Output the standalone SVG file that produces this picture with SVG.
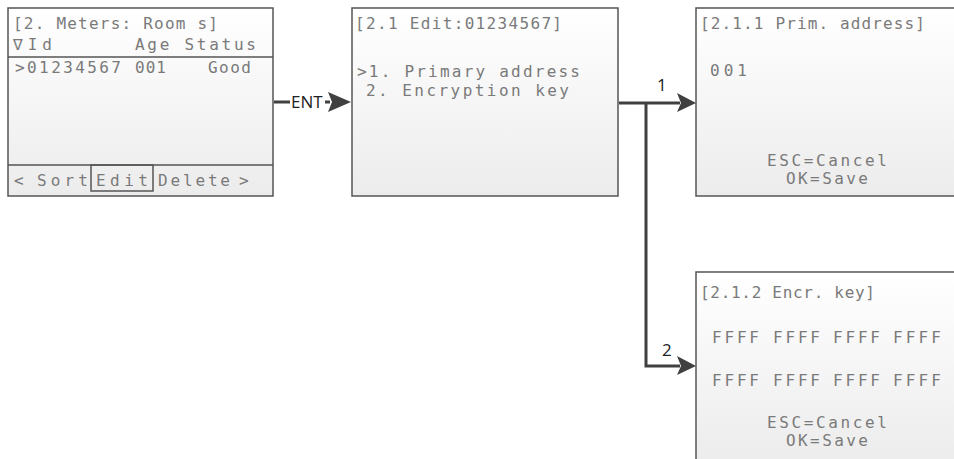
<svg xmlns="http://www.w3.org/2000/svg" width="954" height="459" viewBox="0 0 954 459">
<defs>
<linearGradient id="lcd" x1="0" y1="0" x2="0" y2="1">
<stop offset="0" stop-color="#ffffff"/>
<stop offset="1" stop-color="#ececec"/>
</linearGradient>
<style>
.scr{fill:url(#lcd);stroke:#555;stroke-width:1.5}
.ln{stroke:#555;stroke-width:1.5;fill:none}
.t{font-family:"DejaVu Sans Mono","Liberation Mono",monospace;font-size:16px;fill:#7a7a7a}
.c{stroke:#404040;stroke-width:3;fill:none}
.ah{fill:#404040}
.lb{font-family:"Open Sans","Liberation Sans",sans-serif;font-size:17px;fill:#222}
</style>
</defs>
<rect width="954" height="459" fill="#fff"/>
<g id="screen-meters">
<rect class="scr" x="8" y="8" width="265" height="188"/>
<line class="ln" x1="8" y1="57" x2="273" y2="57"/>
<line class="ln" x1="8" y1="165" x2="273" y2="165"/>
<rect class="ln" x="91" y="165" width="62" height="26"/>
<text class="t" x="13" y="29" textLength="205" lengthAdjust="spacing">[2. Meters: Room s]</text>
<text class="t" x="13" y="50" textLength="39" lengthAdjust="spacing">∇Id</text>
<text class="t" x="135" y="50" textLength="121" lengthAdjust="spacing">Age Status</text>
<text class="t" x="15" y="73" textLength="106" lengthAdjust="spacing">&gt;01234567</text>
<text class="t" x="135" y="73" textLength="31" lengthAdjust="spacing">001</text>
<text class="t" x="208" y="73" textLength="43" lengthAdjust="spacing">Good</text>
<text class="t" x="14" y="186">&lt;</text>
<text class="t" x="37" y="186" textLength="51" lengthAdjust="spacing">Sort</text>
<text class="t" x="96" y="186" textLength="52" lengthAdjust="spacing">Edit</text>
<text class="t" x="158" y="186" textLength="72" lengthAdjust="spacing">Delete</text>
<text class="t" x="239" y="186">&gt;</text>
</g>
<g id="screen-edit">
<rect class="scr" x="352" y="8" width="266" height="188"/>
<text class="t" x="355" y="29" textLength="207" lengthAdjust="spacing">[2.1 Edit:01234567]</text>
<text class="t" x="357" y="77" textLength="223" lengthAdjust="spacing">&gt;1. Primary address</text>
<text class="t" x="366" y="96" textLength="203" lengthAdjust="spacing">2. Encryption key</text>
</g>
<g id="screen-prim">
<rect class="scr" x="696" y="8" width="266" height="188"/>
<text class="t" x="700" y="29" textLength="225" lengthAdjust="spacing">[2.1.1 Prim. address]</text>
<text class="t" x="710" y="76" textLength="37" lengthAdjust="spacing">001</text>
<text class="t" x="767" y="166" textLength="120" lengthAdjust="spacing">ESC=Cancel</text>
<text class="t" x="786" y="184" textLength="82" lengthAdjust="spacing">OK=Save</text>
</g>
<g id="screen-encr">
<rect class="scr" x="696" y="272" width="266" height="190"/>
<text class="t" x="700" y="298" textLength="175" lengthAdjust="spacing">[2.1.2 Encr. key]</text>
<text class="t" x="712" y="343" textLength="47" lengthAdjust="spacing">FFFF</text>
<text class="t" x="773" y="343" textLength="47" lengthAdjust="spacing">FFFF</text>
<text class="t" x="833" y="343" textLength="47" lengthAdjust="spacing">FFFF</text>
<text class="t" x="893" y="343" textLength="48" lengthAdjust="spacing">FFFF</text>
<text class="t" x="712" y="386" textLength="47" lengthAdjust="spacing">FFFF</text>
<text class="t" x="773" y="386" textLength="47" lengthAdjust="spacing">FFFF</text>
<text class="t" x="833" y="386" textLength="47" lengthAdjust="spacing">FFFF</text>
<text class="t" x="893" y="386" textLength="48" lengthAdjust="spacing">FFFF</text>
<text class="t" x="767" y="428" textLength="120" lengthAdjust="spacing">ESC=Cancel</text>
<text class="t" x="786" y="446" textLength="82" lengthAdjust="spacing">OK=Save</text>
</g>
<g id="connectors">
<line class="c" x1="274" y1="102" x2="290" y2="102"/>
<text class="lb" x="291" y="108">ENT</text>
<line class="c" x1="325" y1="102" x2="330" y2="102"/>
<path class="ah" d="M328,92 L351,102 L328,112 L332,102 Z"/>
<line class="c" x1="619" y1="103" x2="680" y2="103"/>
<path class="ah" d="M677,93 L696,103 L677,112 L681,103 Z"/>
<text class="lb" x="657" y="91">1</text>
<path class="c" d="M646,103 L646,366 L680,366"/>
<path class="ah" d="M677,356 L696,366 L677,375 L681,366 Z"/>
<text class="lb" x="662" y="356">2</text>
</g>
</svg>
